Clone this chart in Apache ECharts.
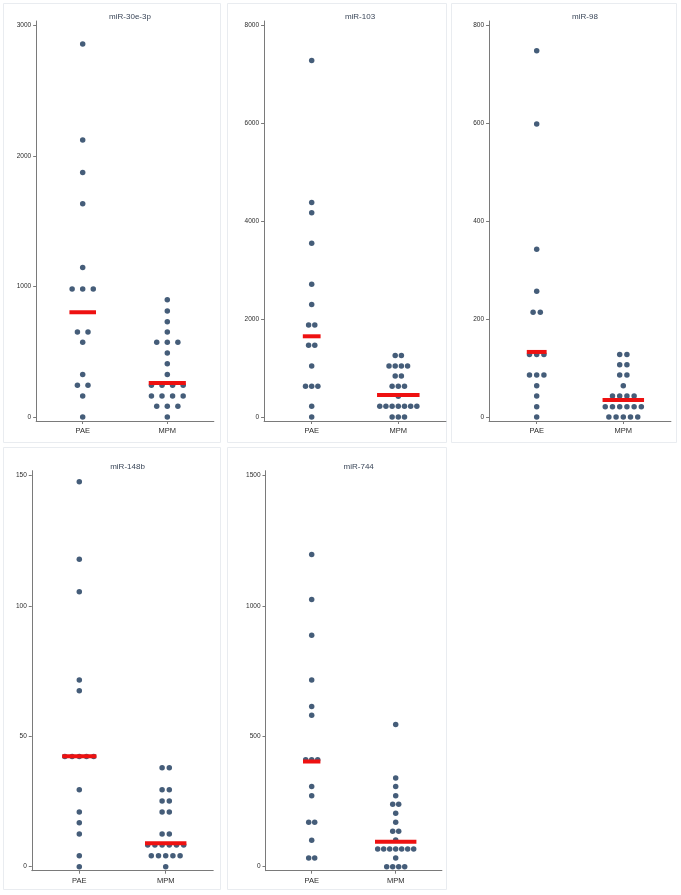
<!DOCTYPE html>
<html><head><meta charset="utf-8">
<script src="https://cdn.jsdelivr.net/npm/echarts@6/dist/echarts.min.js"></script>
<style>html,body{margin:0;padding:0;background:#fff}#c{width:681px;height:895px}</style>
</head><body><div id="c"></div>
<script>
// ---- data ----
const groups = ['PAE', 'MPM'];
const titles = ['miR-30e-3p', 'miR-103', 'miR-98', 'miR-148b', 'miR-744'];

const pae30e = [2860, 2123, 1875, 1634, 1146, 982, 982, 982, 652, 652, 573, 325, 243, 243, 161, 0];
const mpm30e = [898, 813, 731, 652, 573, 573, 573, 491, 409, 325, 243, 243, 243, 243, 161, 161, 161, 161, 82, 82, 82, 0];
const med30e = [803, 261];
const ticks30e = [0, 1000, 2000, 3000];

const pae103 = [7291, 4385, 4174, 3553, 2714, 2298, 1882, 1882, 1466, 1466, 1043, 627, 627, 627, 218, 0];
const mpm103 = [1255, 1255, 1043, 1043, 1043, 1043, 839, 839, 627, 627, 627, 423, 218, 218, 218, 218, 218, 218, 218, 0, 0, 0];
const med103 = [1650, 450];
const ticks103 = [0, 2000, 4000, 6000, 8000];

const pae98 = [749, 599, 343, 257, 214, 214, 128, 128, 128, 86, 86, 86, 64, 43, 21, 0];
const mpm98 = [128, 128, 107, 107, 86, 86, 64, 43, 43, 43, 43, 21, 21, 21, 21, 21, 21, 0, 0, 0, 0, 0];
const med98 = [133, 35];
const ticks98 = [0, 200, 400, 600, 800];

const pae148b = [147.6, 117.9, 105.4, 71.6, 67.4, 42.2, 42.2, 42.2, 42.2, 42.2, 29.5, 21.0, 16.8, 12.5, 4.2, 0];
const mpm148b = [37.9, 37.9, 29.5, 29.5, 25.2, 25.2, 21.0, 21.0, 12.5, 12.5, 8.3, 8.3, 8.3, 8.3, 8.3, 8.3, 4.2, 4.2, 4.2, 4.2, 4.2, 0];
const med148b = [42.3, 9.0];
const ticks148b = [0, 50, 100, 150];

const pae744 = [1197, 1024, 887, 716, 614, 581, 410, 410, 410, 307, 272, 170, 170, 101, 33, 33];
const mpm744 = [545, 340, 307, 272, 239, 239, 205, 170, 136, 136, 102, 68, 68, 68, 68, 68, 68, 68, 33, 0, 0, 0, 0];
const med744 = [403, 96];
const ticks744 = [0, 500, 1000, 1500];

// ---- layout ----
const panels = [
  {pae: pae30e, mpm: mpm30e, med: med30e, ticks: ticks30e, c1: 82.7, c2: 167.3, top: 21, frame: [3.5, 3.5, 217, 439]},
  {pae: pae103, mpm: mpm103, med: med103, ticks: ticks103, c1: 311.7, c2: 398.3, top: 21, frame: [227.5, 3.5, 219, 439]},
  {pae: pae98, mpm: mpm98, med: med98, ticks: ticks98, c1: 536.7, c2: 623.3, top: 21, frame: [451.5, 3.5, 225, 439]},
  {pae: pae148b, mpm: mpm148b, med: med148b, ticks: ticks148b, c1: 79.3, c2: 165.7, top: 470.7, frame: [3.5, 447.5, 217, 442]},
  {pae: pae744, mpm: mpm744, med: med744, ticks: ticks744, c1: 311.7, c2: 395.7, top: 470.7, frame: [227.5, 447.5, 219, 442]}
];
const XMIN = 0.45, XMAX = 2.55, PLOT_H = 400;
const DOT = '#163557', RED = '#ee1111', AXIS = '#7a7a7a', TXT = '#2b2b2b';
const FONT = 'Liberation Sans, Arial, sans-serif';

function rows(vals) {
  const m = new Map();
  vals.forEach(v => m.set(v, (m.get(v) || 0) + 1));
  return m;
}

const grid = [], xAxis = [], yAxis = [], series = [], title = [], graphic = [];
panels.forEach((p, i) => {
  const s = p.c2 - p.c1;
  const left = p.c1 - (1 - XMIN) * s;
  const width = (XMAX - XMIN) * s;
  grid.push({left: left, top: p.top, width: width, height: PLOT_H});
  const T = p.ticks[p.ticks.length - 1];
  const ymin = -0.01022 * T, ymax = 1.012 * T;
  xAxis.push({
    gridIndex: i, type: 'value', min: XMIN, max: XMAX,
    axisLine: {show: true, onZero: false, lineStyle: {color: AXIS, width: 1}},
    axisTick: {show: true, customValues: [1, 2], length: 3, lineStyle: {color: AXIS}},
    axisLabel: {show: true, customValues: [1, 2], formatter: v => groups[Math.round(v) - 1], color: TXT, fontSize: 7.5, fontFamily: FONT, margin: 6},
    splitLine: {show: false}
  });
  yAxis.push({
    gridIndex: i, type: 'value', min: ymin, max: ymax,
    axisLine: {show: true, onZero: false, lineStyle: {color: AXIS, width: 1}},
    axisTick: {show: true, customValues: p.ticks, length: 3, lineStyle: {color: AXIS}},
    axisLabel: {show: true, customValues: p.ticks, formatter: v => String(v), color: TXT, fontSize: 6.5, fontFamily: FONT, margin: 5},
    splitLine: {show: false}
  });
  title.push({
    text: titles[i], left: left + width / 2, top: p.top - 13, textAlign: 'center',
    textStyle: {fontSize: 8, fontWeight: 'normal', color: '#3a4658', fontFamily: FONT}
  });
  graphic.push({type: 'rect', shape: {x: p.frame[0], y: p.frame[1], width: p.frame[2], height: p.frame[3]},
    style: {fill: 'none', stroke: '#e9ecf0', lineWidth: 1}, silent: true, z: -10});

  const gsets = [p.pae, p.mpm];
  const rowMaps = gsets.map(rows);
  let maxCount = 0;
  rowMaps.forEach(m => m.forEach(c => { if (c > maxCount) maxCount = c; }));
  const sp = 0.5 / maxCount;       // horizontal spacing between stacked dots (axis units)
  const rU = 2.7 / s;              // dot radius in axis units
  const pts = [];
  gsets.forEach((vals, g) => {
    const center = g + 1;
    let gMax = 0;
    rowMaps[g].forEach((n, v) => {
      if (n > gMax) gMax = n;
      for (let k = 0; k < n; k++) pts.push([center + (k - (n - 1) / 2) * sp, v]);
    });
    const half = (gMax - 1) / 2 * sp + rU;
    series.push({
      type: 'line', xAxisIndex: i, yAxisIndex: i, symbol: 'none', silent: true, z: 5,
      data: [[center - half, p.med[g]], [center + half, p.med[g]]],
      lineStyle: {color: RED, width: 4, cap: 'butt'}
    });
  });
  series.push({
    type: 'scatter', xAxisIndex: i, yAxisIndex: i, symbol: 'circle', symbolSize: 5.5, silent: true, z: 3,
    itemStyle: {color: DOT}, data: pts
  });
});

const chart = echarts.init(document.getElementById('c'), null, {renderer: 'canvas'});
chart.setOption({animation: false, backgroundColor: '#fff', grid, xAxis, yAxis, series, title, graphic});
</script>
</body></html>
